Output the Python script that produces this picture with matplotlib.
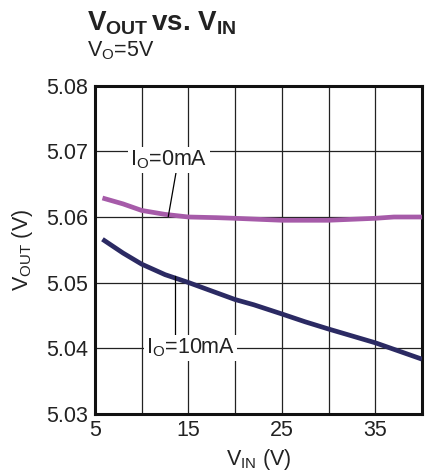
import matplotlib.pyplot as plt
import numpy as np

plt.rcParams['font.family'] = ['Liberation Sans', 'DejaVu Sans']
plt.rcParams['mathtext.fontset'] = 'custom'
plt.rcParams['mathtext.rm'] = 'Liberation Sans'
plt.rcParams['mathtext.it'] = 'Liberation Sans'
plt.rcParams['mathtext.bf'] = 'Liberation Sans:bold'

# data
vin_0ma = [5.8, 8, 10, 12.5, 15, 18, 20, 25, 30, 35, 37, 40]
vout_0ma = [5.0629, 5.0620, 5.0610, 5.0604, 5.0600, 5.0599, 5.0598, 5.0595, 5.0595, 5.0598, 5.0600, 5.0600]

vin_10ma = [5.8, 8, 10, 12.5, 15, 20, 22, 25, 27.5, 30, 35, 40]
vout_10ma = [5.0566, 5.0545, 5.0528, 5.0512, 5.0500, 5.0474, 5.0466, 5.0452, 5.0440, 5.0429, 5.0408, 5.0383]

x_ticks = [5, 15, 25, 35]
y_ticks = [5.03, 5.04, 5.05, 5.06, 5.07, 5.08]

fig = plt.figure(figsize=(4.31, 4.74), dpi=100)
ax = fig.add_axes([0.2204, 0.1276, 0.7586, 0.691])

ax.plot(vin_0ma, vout_0ma, color='#a65ba9', lw=3.4, solid_capstyle='butt', zorder=3)
ax.plot(vin_10ma, vout_10ma, color='#2b2a63', lw=3.4, solid_capstyle='butt', zorder=3)

ax.set_xlim(5, 40)
ax.set_ylim(5.03, 5.08)
ax.set_xticks(np.arange(5, 41, 5), minor=True)
ax.set_xticks(x_ticks)
ax.set_yticks(y_ticks)
ax.set_yticklabels(['%.2f' % v for v in y_ticks])
ax.grid(True, which='both', color='#222222', lw=0.9, zorder=1)
ax.tick_params(which='both', length=0, labelsize=15.5, colors='#222222', pad=5)
for s in ax.spines.values():
    s.set_linewidth(2.2)
    s.set_color('#111111')

ax.set_xlabel(r'V$_{\mathrm{IN}}$ (V)', fontsize=15.5, color='#222222', labelpad=4)
ax.set_ylabel(r'V$_{\mathrm{OUT}}$ (V)', fontsize=15.5, color='#222222', labelpad=8)

# curve labels
box = dict(facecolor='white', edgecolor='none', pad=1.5)
ax.plot([13.75, 12.85], [5.0674, 5.0601], color='black', lw=0.9, zorder=4)
ax.text(12.9, 5.0687, r'I$_{\mathrm{O}}$=0mA', fontsize=15.5, ha='center', va='center',
        color='#222222', bbox=box, zorder=5)
ax.plot([13.6, 13.6], [5.0510, 5.0412], color='black', lw=0.9, zorder=4)
ax.text(15.2, 5.0400, r'I$_{\mathrm{O}}$=10mA', fontsize=15.5, ha='center', va='center',
        color='#222222', bbox=box, zorder=5)

fig.text(0.202, 0.935, r'$\mathbf{V}_{\mathbf{OUT}}$$\,$vs. $\mathbf{V}_{\mathbf{IN}}$',
         fontsize=20, fontweight='bold', color='#222222', ha='left', va='baseline')
fig.text(0.202, 0.882, r'V$_{\mathrm{O}}$=5V', fontsize=15.5, color='#222222',
         ha='left', va='baseline')

fig.savefig('out.png', dpi=100)
